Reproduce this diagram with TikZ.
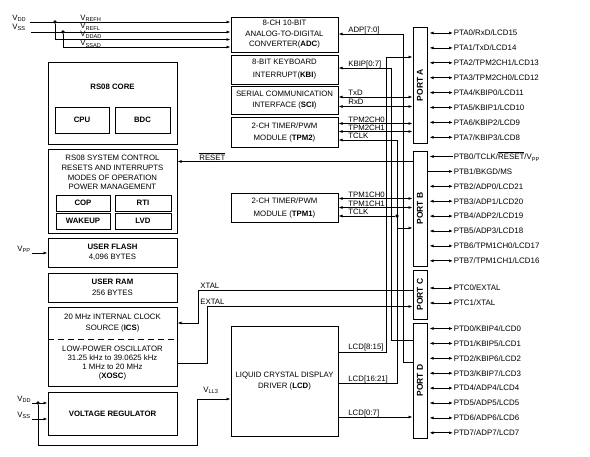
\documentclass[tikz,border=0pt]{standalone}
\usepackage{fontspec}
\setmainfont{Liberation Sans}
\usetikzlibrary{arrows.meta}
\newcommand\fsz[2]{\fontsize{#1}{#2}\selectfont}
\newcommand\sbs[1]{\raisebox{-0.45ex}{\fontsize{5.6}{6}\selectfont #1}}
\newcommand\ovl[1]{$\overline{\hbox{#1}}$}
\begin{document}
\begin{tikzpicture}[x=1pt,y=-1pt,line width=0.8pt,
  box/.style={draw,line width=1pt,inner sep=0pt,align=center},
  txt/.style={inner sep=0pt,align=center},
  pin/.style={anchor=west,inner sep=0.4pt,text height=5.7pt,text depth=0pt,font=\fsz{7.9}{9}},
  sig/.style={anchor=base west,inner sep=0pt,font=\fsz{7.8}{9}},
  plab/.style={rotate=90,inner sep=0pt,font=\fsz{8.5}{9}\bfseries},
  dot/.style={circle,fill,inner sep=0pt,minimum size=3.6pt},
  arrR/.style={-{Latex[length=4pt,width=3pt]}},
  arrL/.style={{Latex[length=4pt,width=3pt]}-},
  arrB/.style={{Latex[length=4pt,width=3pt]}-{Latex[length=4pt,width=3pt]}}]
\useasboundingbox (0,0) rectangle (590,456);

% ---------- module boxes ----------
\node[box,minimum width=107pt,minimum height=35pt,font=\fsz{7.8}{10.5}] (adc) at (284.5,34.5) {8-CH 10-BIT\\ANALOG-TO-DIGITAL\\CONVERTER(\textbf{ADC})};
\node[box,minimum width=107pt,minimum height=29pt,font=\fsz{7.8}{13}] (kbi) at (284.5,69.5) {8-BIT KEYBOARD\\INTERRUPT(\textbf{KBI})};
\node[box,minimum width=107pt,minimum height=28pt,font=\fsz{7.8}{11}] (sci) at (284.5,100) {SERIAL COMMUNICATION\\INTERFACE (\textbf{SCI})};
\node[box,minimum width=107pt,minimum height=30pt,font=\fsz{7.8}{12}] (tpm2) at (284.5,132.5) {2-CH TIMER/PWM\\MODULE (\textbf{TPM2})};
\node[box,minimum width=107pt,minimum height=29pt,font=\fsz{7.8}{13}] (tpm1) at (284.5,207.5) {2-CH TIMER/PWM\\MODULE (\textbf{TPM1})};
\node[box,minimum width=107pt,minimum height=110pt,font=\fsz{7.8}{11}] (lcd) at (284.5,381) {LIQUID CRYSTAL DISPLAY\\DRIVER (\textbf{LCD})};

\node[box,minimum width=129pt,minimum height=82pt] (core) at (112.5,103) {};
\node[txt,font=\fsz{7.8}{9}\bfseries] (coretxt) at (112.5,87) {RS08 CORE};
\node[box,minimum width=54pt,minimum height=26pt,font=\fsz{7.8}{9}\bfseries] (cpu) at (82,120) {CPU};
\node[box,minimum width=55pt,minimum height=26pt,font=\fsz{7.8}{9}\bfseries] (bdc) at (142.5,120) {BDC};

\node[box,minimum width=129pt,minimum height=84pt] (sysc) at (112.5,191) {};
\node[txt,font=\fsz{7.8}{9.7}] (sysctxt) at (112.5,172.5) {RS08 SYSTEM CONTROL\\RESETS AND INTERRUPTS\\MODES OF OPERATION\\POWER MANAGEMENT};
\node[box,minimum width=54pt,minimum height=16.5pt,font=\fsz{7.8}{9}\bfseries] (cop) at (83,203.25) {COP};
\node[box,minimum width=56pt,minimum height=16.5pt,font=\fsz{7.8}{9}\bfseries] (rti) at (143,203.25) {RTI};
\node[box,minimum width=54pt,minimum height=16.5pt,font=\fsz{7.8}{9}\bfseries] (wake) at (83,221.25) {WAKEUP};
\node[box,minimum width=56pt,minimum height=16.5pt,font=\fsz{7.8}{9}\bfseries] (lvd) at (143,221.25) {LVD};

\node[box,minimum width=129pt,minimum height=29pt,font=\fsz{7.8}{10}] (flash) at (112.5,252.5) {\textbf{USER FLASH}\\4,096 BYTES};
\node[box,minimum width=129pt,minimum height=29pt,font=\fsz{7.8}{11}] (ram) at (112.5,287.5) {\textbf{USER RAM}\\256 BYTES};

\node[box,minimum width=129pt,minimum height=79pt] (osc) at (112.5,346.5) {};
\draw[dash pattern=on 6pt off 4pt,line width=1pt] (osc.west |- 0,339) -- (osc.east |- 0,339);
\node[txt,font=\fsz{7.8}{11}] (icstxt) at (112.5,323.5) {20 MHz INTERNAL CLOCK\\SOURCE (\textbf{ICS})};
\node[txt,font=\fsz{7.8}{9}] (xosctxt) at (112.5,363.5) {LOW-POWER OSCILLATOR\\31.25 kHz to 39.0625 kHz\\1 MHz to 20 MHz\\(\textbf{XOSC})};

\node[box,minimum width=129pt,minimum height=43pt,font=\fsz{7.8}{9}\bfseries] (vreg) at (112.5,413.5) {VOLTAGE REGULATOR};

% ---------- ports ----------
\node[box,minimum width=14pt,minimum height=116pt] (portA) at (420,85) {};
\node[box,minimum width=14pt,minimum height=115pt] (portB) at (420,208.5) {};
\node[box,minimum width=14pt,minimum height=49pt] (portC) at (420,294.5) {};
\node[box,minimum width=14pt,minimum height=115pt] (portD) at (420,380.5) {};
\node[plab] (lpa) at (portA.center) {PORT A};
\node[plab] (lpb) at (portB.center) {PORT B};
\node[plab] (lpc) at (portC.center) {PORT C};
\node[plab] (lpd) at (portD.center) {PORT D};

\foreach \t [count=\i from 0] in {{PTA0/RxD/LCD15},{PTA1/TxD/LCD14},{PTA2/TPM2CH1/LCD13},{PTA3/TPM2CH0/LCD12},{PTA4/KBIP0/LCD11},{PTA5/KBIP1/LCD10},{PTA6/KBIP2/LCD9},{PTA7/KBIP3/LCD8}}{
  \node[pin] (pa\i) at (453,{33+14.9*\i}) {\t};
  \draw[arrB,shorten >=2pt] (pa\i.west) -- (portA.east |- pa\i.west);
}
\node[pin] (pb0) at (453,156.5) {PTB0/TCLK/\ovl{RESET}/V\sbs{PP}};
\draw[arrR,shorten >=2pt] (pb0.west) -- (portB.east |- pb0.west);
\node[pin] (pb1) at (453,171.4) {PTB1/BKGD/MS};
\draw[arrR] (portB.east |- pb1.west) -- (pb1.west);
\foreach \t [count=\i from 2] in {{PTB2/ADP0/LCD21},{PTB3/ADP1/LCD20},{PTB4/ADP2/LCD19},{PTB5/ADP3/LCD18},{PTB6/TPM1CH0/LCD17},{PTB7/TPM1CH1/LCD16}}{
  \node[pin] (pb\i) at (453,{156.5+14.9*\i}) {\t};
  \draw[arrB,shorten >=2pt] (pb\i.west) -- (portB.east |- pb\i.west);
}
\foreach \t [count=\i from 0] in {{PTC0/EXTAL},{PTC1/XTAL}}{
  \node[pin] (pc\i) at (453,{288+15*\i}) {\t};
  \draw[arrB,shorten >=2pt] (pc\i.west) -- (portC.east |- pc\i.west);
}
\foreach \t [count=\i from 0] in {{PTD0/KBIP4/LCD0},{PTD1/KBIP5/LCD1},{PTD2/KBIP6/LCD2},{PTD3/KBIP7/LCD3},{PTD4/ADP4/LCD4},{PTD5/ADP5/LCD5},{PTD6/ADP6/LCD6},{PTD7/ADP7/LCD7}}{
  \node[pin] (pd\i) at (453,{328.5+14.9*\i}) {\t};
  \draw[arrB,shorten >=2pt] (pd\i.west) -- (portD.east |- pd\i.west);
}

% ---------- analog supply ----------
\node[sig] (lvdd) at (12,20) {V\sbs{DD}};
\node[sig] (lvss) at (12,29) {V\sbs{SS}};
\coordinate (vddS) at (30,22);
\coordinate (vssS) at (31,32);
\node[dot] (j1) at (55,22) {};
\node[dot] (j2) at (63,32) {};
\coordinate (c1) at (55,39.5);
\coordinate (c2) at (63,47);
\draw[arrR] (vddS) -- (adc.west |- vddS);
\draw[arrR] (vssS) -- (adc.west |- vssS);
\draw[arrR] (j1) -- (c1) -- (adc.west |- c1);
\draw[arrR] (j2) -- (c2) -- (adc.west |- c2);
\node[sig] (lrefh) at (80,20) {V\sbs{REFH}};
\node[sig] (lrefl) at (80,28.3) {V\sbs{REFL}};
\node[sig] (lddad) at (80,36.7) {V\sbs{DDAD}};
\node[sig] (lssad) at (80,45.3) {V\sbs{SSAD}};

% ---------- buses ----------
\coordinate (adpT) at (403,34);
\coordinate (adpB) at (403,362);
\draw[arrL] (adc.east |- adpT) -- (adpT) -- (adpB) -- (portD.west |- adpB);
\node[sig] (ladp) at (348,32) {ADP[7:0]};

\coordinate (kbT) at (391,68);
\coordinate (kbB) at (391,340);
\draw[arrL] (kbi.east |- kbT) -- (kbT) -- (kbB) -- (portD.west |- kbB);
\node[sig] (lkbip) at (348,66.2) {KBIP[0:7]};

\coordinate (l8B) at (386,352);
\coordinate (l8T) at (386,57);
\draw[arrR] (lcd.east |- l8B) -- (l8B) -- (l8T) -- (portA.west |- l8T);
\node[sig] (ll8) at (348,349.5) {LCD[8:15]};

\draw[arrB] (sci.east |- 0,97) -- (portA.west |- 0,97);
\node[sig] (ltxd) at (348,95) {TxD};
\draw[arrB] (sci.east |- 0,106.5) -- (portA.west |- 0,106.5);
\node[sig] (lrxd) at (348,104.8) {RxD};

\draw[arrB] (tpm2.east |- 0,123.5) -- (portA.west |- 0,123.5);
\node[sig] (lt2c0) at (348,122) {TPM2CH0};
\draw[arrB] (tpm2.east |- 0,131.5) -- (portA.west |- 0,131.5);
\node[sig] (lt2c1) at (348,130.3) {TPM2CH1};

\coordinate (tk1) at (397,140);
\coordinate (tk2) at (397,228);
\draw[arrB] (tpm2.east |- tk1) -- (tk1) -- (tk2) -- (portB.west |- tk2);
\node[sig] (ltclk2) at (348,138.8) {TCLK};

\draw[arrB] (tpm1.east |- 0,198.5) -- (portB.west |- 0,198.5);
\node[sig] (lt1c0) at (348,197.2) {TPM1CH0};
\draw[arrB] (tpm1.east |- 0,207.5) -- (portB.west |- 0,207.5);
\node[sig] (lt1c1) at (348,206.2) {TPM1CH1};
\node[dot] (j3) at (397,216) {};
\draw[arrR] (j3) -- (tpm1.east |- j3);
\node[sig] (ltclk1) at (348,214.8) {TCLK};

\coordinate (l16) at (397,383);
\draw (lcd.east |- l16) -- (l16) -- (tk2);
\node[sig] (ll16) at (348,381.2) {LCD[16:21]};

\draw[arrR] (lcd.east |- 0,417) -- (portD.west |- 0,417);
\node[sig] (ll0) at (348,415) {LCD[0:7]};

\draw[arrR] (portB.west |- 0,161.5) -- (sysc.east |- 0,161.5);
\node[sig] (lreset) at (199,160) {\ovl{RESET}};

% ---------- clock ----------
\coordinate (xt1) at (198,290.5);
\coordinate (xt2) at (198,323);
\draw[arrR] (portC.west |- xt1) -- (xt1) -- (xt2) -- (osc.east |- xt2);
\node[sig] (lxtal) at (200,288.6) {XTAL};
\coordinate (ex1) at (207,363);
\coordinate (ex2) at (207,306.5);
\draw[arrR] (osc.east |- ex1) -- (ex1) -- (ex2) -- (portC.west |- ex2);
\node[sig] (lextal) at (200,304.6) {EXTAL};

% ---------- supplies ----------
\node[sig] (lvpp) at (17,251) {V\sbs{PP}};
\coordinate (vpp) at (32,253);
\draw[arrR] (vpp) -- (flash.west |- vpp);

\node[sig] (lbvdd) at (17,401) {V\sbs{DD}};
\node[sig] (lbvss) at (17,417) {V\sbs{SS}};
\coordinate (bvdd) at (32,403);
\coordinate (bvss) at (32,419);
\node[dot] (j4) at (38,403) {};
\draw[arrR] (bvdd) -- (vreg.west |- bvdd);
\draw[arrR] (bvss) -- (vreg.west |- bvss);
\coordinate (v1) at (38,445);
\coordinate (v2) at (197,445);
\coordinate (v3) at (197,399);
\draw[arrR] (j4) -- (v1) -- (v2) -- (v3) -- (lcd.west |- v3);
\node[sig] (lvll3) at (203,392) {V\sbs{LL3}};
\end{tikzpicture}
\end{document}
